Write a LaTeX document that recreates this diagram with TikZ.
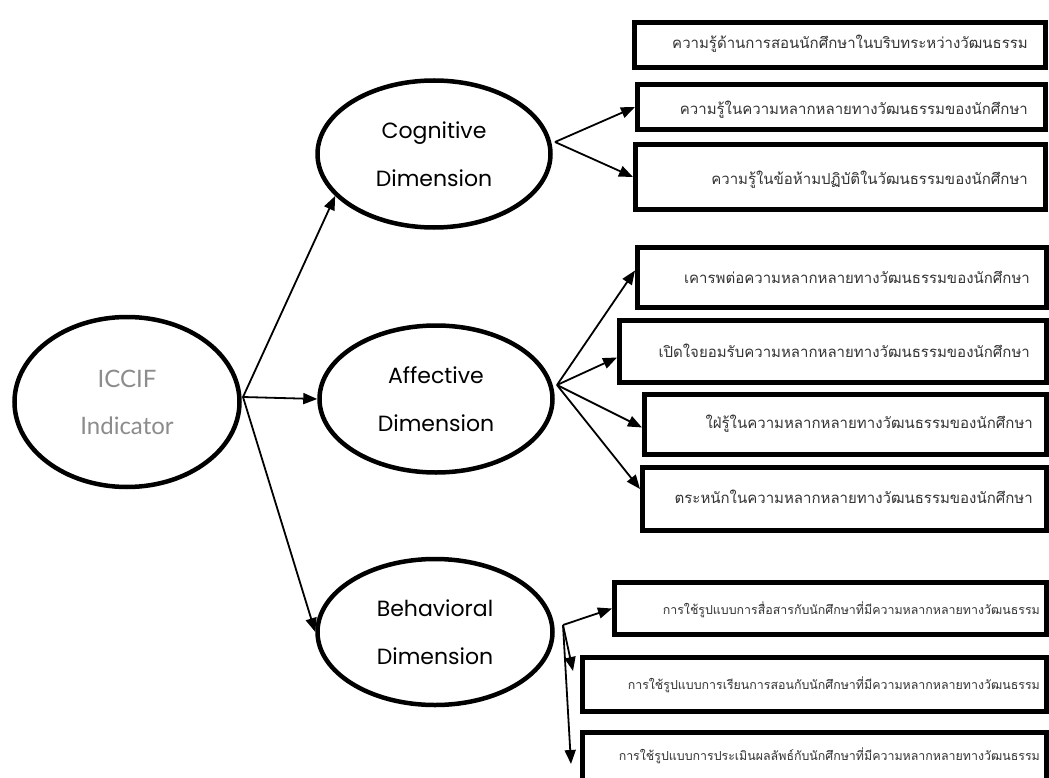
\documentclass[tikz,border=0pt]{standalone}
\usepackage{fontspec}
\usetikzlibrary{shapes.geometric,arrows.meta,fit,calc}
\newfontfamily\thaifont[Script=Thai]{Loma}
\newfontfamily\labfont{Poppins}
\newfontfamily\iccfont{Lato}
\definecolor{thaigray}{HTML}{333333}
\definecolor{iccgray}{HTML}{8C8C8C}
\begin{document}
\begin{tikzpicture}[x=1pt,y=-1pt,
  dim/.style={ellipse, draw, line width=4.5pt, align=center, inner sep=0pt,
    font=\labfont\fontsize{22}{48}\selectfont},
  box/.style={draw, line width=5pt, inner sep=0pt, rectangle},
  thai/.style={anchor=east, text=thaigray, inner sep=0pt,
    font=\thaifont\fontsize{15}{17}\selectfont},
  thaism/.style={thai, font=\thaifont\fontsize{12.4}{15}\selectfont},
  conn/.style={line width=1.8pt, -{Triangle[length=14pt,width=11pt]}}
]
\path[use as bounding box] (0,0) rectangle (1049,778);
\clip (0,0) rectangle (1049,778);
\fill[white] (0,0) rectangle (1049,778);

% ellipses
\node[dim, minimum width=225pt, minimum height=170pt, text=iccgray,
  font=\iccfont\fontsize{24}{47}\selectfont] (icc) at (127,402) {ICCIF\\Indicator};
\node[dim, minimum width=233pt, minimum height=147pt] (cog) at (434,154) {Cognitive\\Dimension};
\node[dim, minimum width=233pt, minimum height=147pt] (aff) at (436,399) {Affective\\Dimension};
\node[dim, minimum width=235pt, minimum height=146pt] (beh) at (435,632) {Behavioral\\Dimension};

% boxes
\node[box, fit={(634.5,22.5) (1045.5,67.5)}] (b1) {};
\node[box, fit={(637.5,84.5) (1045.5,129.5)}] (b2) {};
\node[box, fit={(635.5,144.5) (1045.5,209.5)}] (b3) {};
\node[box, fit={(637.5,247.5) (1046.5,307.5)}] (b4) {};
\node[box, fit={(619.5,320.5) (1046.5,382.5)}] (b5) {};
\node[box, fit={(644.5,394.5) (1046.5,454.5)}] (b6) {};
\node[box, fit={(642.5,467.5) (1046.5,530.5)}] (b7) {};
\node[box, fit={(614.5,582.5) (1046.5,634.5)}] (b8) {};
\node[box, fit={(582.5,657.5) (1046.5,711.5)}] (b9) {};
\node[box, fit={(582.5,732.5) (1046.5,790)}] (b10) {};

% texts
\node[thai] (t1) at (1028,44) {ความรู้ด้านการสอนนักศึกษาในบริบทระหว่างวัฒนธรรม};
\node[thai] (t2) at (1028,110) {ความรู้ในความหลากหลายทางวัฒนธรรมของนักศึกษา};
\node[thai] (t3) at (1028,180) {ความรู้ในข้อห้ามปฏิบัติในวัฒนธรรมของนักศึกษา};
\node[thai] (t4) at (1030,277) {เคารพต่อความหลากหลายทางวัฒนธรรมของนักศึกษา};
\node[thai] (t5) at (1030,351) {เปิดใจยอมรับความหลากหลายทางวัฒนธรรมของนักศึกษา};
\node[thai] (t6) at (1033,424) {ใฝ่รู้ในความหลากหลายทางวัฒนธรรมของนักศึกษา};
\node[thai] (t7) at (1033,497) {ตระหนักในความหลากหลายทางวัฒนธรรมของนักศึกษา};
\node[thaism] (t8) at (1040,610) {การใช้รูปแบบการสื่อสารกับนักศึกษาที่มีความหลากหลายทางวัฒนธรรม};
\node[thaism] (t9) at (1040,685) {การใช้รูปแบบการเรียนการสอนกับนักศึกษาที่มีความหลากหลายทางวัฒนธรรม};
\node[thaism] (t10) at (1040,756) {การใช้รูปแบบการประเมินผลลัพธ์กับนักศึกษาที่มีความหลากหลายทางวัฒนธรรม};

% junctions
\coordinate (j0) at (243,397);
\coordinate (jc) at (555,142);
\coordinate (ja) at (557,385);
\coordinate (jb) at (563,625);
\coordinate (e9) at ($(b9.north west)+(-7,16)$);
\coordinate (e10) at ($(b10.north west)+(-9,34)$);

% connectors
\draw[conn] (j0) -- (cog.203);
\draw[conn] (j0) -- (aff.west);
\draw[conn] (j0) -- (beh.west);
\draw[conn] (jc) -- (b2.west);
\draw[conn] (jc) -- (b3.west);
\draw[conn] (ja) -- ($(b4.west)+(0,-7)$);
\draw[conn] (ja) -- ($(b5.west)+(0,6)$);
\draw[conn] (ja) -- ($(b6.west)+(0,3)$);
\draw[conn] (ja) -- ($(b7.west)+(0,-10)$);
\draw[conn] (jb) -- (b8.west);
\draw[conn] (jb) -- (e9);
\draw[conn] (jb) -- (e10);
\end{tikzpicture}
\end{document}
